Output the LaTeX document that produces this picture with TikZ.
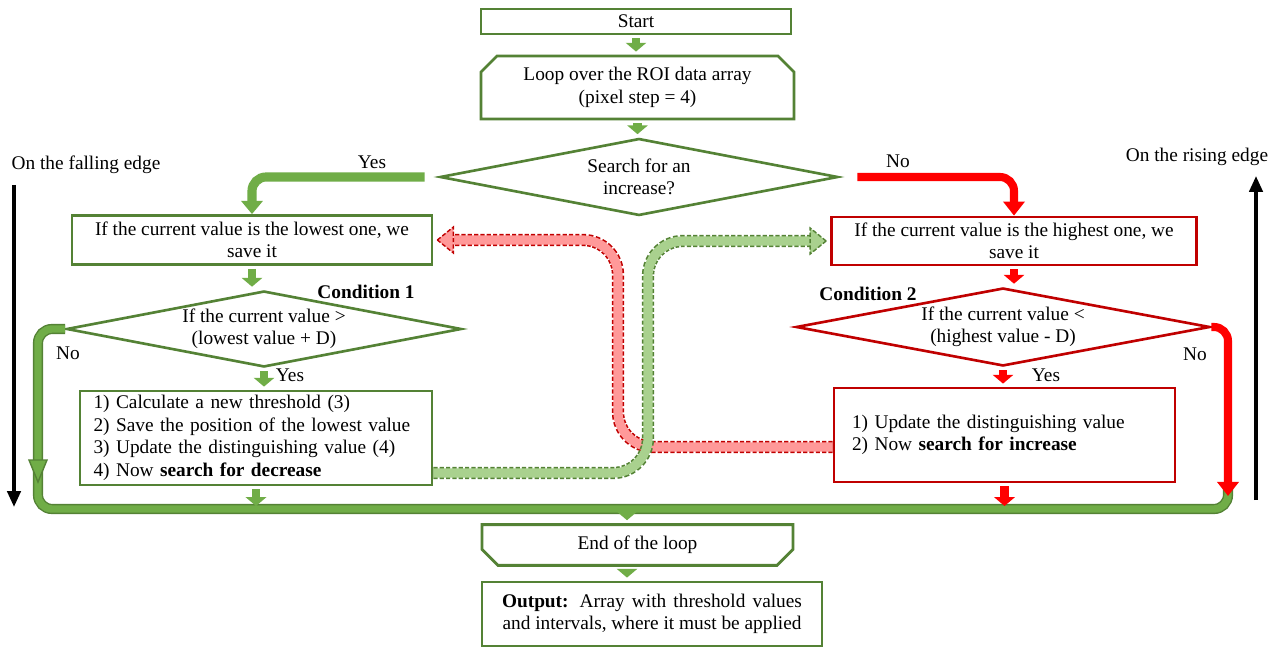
\documentclass[tikz,border=0pt]{standalone}
\usepackage{fontspec}
\setmainfont{Liberation Serif}
\usetikzlibrary{shapes.geometric,shapes.misc,arrows.meta,positioning,calc}

\definecolor{boxgreen}{RGB}{84,130,53}
\definecolor{bandgreen}{RGB}{112,173,71}
\definecolor{palegreen}{RGB}{169,209,142}
\definecolor{boxred}{RGB}{192,0,0}
\definecolor{bandred}{RGB}{255,0,0}
\definecolor{palered}{RGB}{255,153,153}

\begin{document}
\begin{tikzpicture}[
  x=0.02cm,y=-0.02cm,
  every node/.style={font=\fontsize{11}{12.8}\selectfont,align=center},
  gbox/.style={rectangle,draw=boxgreen,line width=1.6pt,fill=white,inner sep=2pt},
  rbox/.style={rectangle,draw=boxred,line width=1.6pt,fill=white,inner sep=2pt},
  gdiam/.style={diamond,draw=boxgreen,line width=1.5pt,fill=white,aspect=5,inner sep=0pt},
  rdiam/.style={diamond,draw=boxred,line width=1.5pt,fill=white,aspect=5,inner sep=0pt},
  gblk/.style={draw=bandgreen,line width=5pt,shorten <=0.06cm,shorten >=0.06cm,-{Triangle[length=5pt,width=11.5pt]}},
  rblk/.style={draw=bandred,line width=5pt,shorten <=0.06cm,shorten >=0.06cm,-{Triangle[length=5pt,width=11.5pt]}},
  gyes/.style={draw=bandgreen,line width=5.2pt,rounded corners=8pt,shorten <=0.28cm,-{Triangle[length=7.5pt,width=12pt]}},
  rno/.style={draw=bandred,line width=4.6pt,rounded corners=8pt,-{Triangle[length=8pt,width=12pt]}},
  loopln/.style={draw=boxgreen,line width=0.8pt,double=bandgreen,double distance=4.2pt,rounded corners=8pt},
  rlink/.style={draw=palered,line width=5.2pt,rounded corners=0.7cm,preaction={draw=boxred,dashed,dash pattern=on 2.4pt off 1.2pt,line width=7pt}},
  glink/.style={draw=palegreen,line width=5.2pt,rounded corners=0.7cm,preaction={draw=boxgreen,dashed,dash pattern=on 2.4pt off 1.2pt,line width=7pt}},
  edgearr/.style={draw=black,line width=2pt,-{Triangle[length=9pt,width=7.5pt]}}
]
\useasboundingbox (0,0) rectangle (1278,648);
\fill[white] (0,0) rectangle (1278,648);

% main column
\node[gbox,minimum width=6.2cm,minimum height=0.5cm] (start) at (636,21.5) {Start};
\node[gbox,chamfered rectangle,chamfered rectangle corners={north west,north east},
  chamfered rectangle xsep=0.16cm,chamfered rectangle ysep=0.16cm,
  minimum width=6.26cm,minimum height=1.18cm] (loop) at (637.5,87.5) {Loop over the ROI data array\\(pixel step = 4)};
\node[gdiam,minimum width=7.96cm,minimum height=1.54cm] (incr) at (639,177) {Search for an\\increase?};

% falling edge branch
\node[gbox,minimum width=7.2cm,minimum height=0.98cm] (low1) at (252,240) {If the current value is the lowest one, we\\save it};
\node[gdiam,minimum width=7.9cm,minimum height=1.52cm] (cond1) at (264,329) {If the current value >\\(lowest value + D)};
\node[gbox,text width=6.5cm,align=left,inner xsep=0.27cm,minimum height=1.88cm] (act1) at (256,438)
  {1) Calculate a new threshold (3)\\2) Save the position of the lowest value\\3) Update the distinguishing value (4)\\4) Now \textbf{search for decrease}};

% rising edge branch
\node[rbox,minimum width=7.3cm,minimum height=0.96cm] (high1) at (1014,241) {If the current value is the highest one, we\\save it};
\node[rdiam,minimum width=8.28cm,minimum height=1.56cm] (cond2) at (1003,327) {If the current value <\\(highest value - D)};
\node[rbox,text width=6.1cm,align=left,inner xsep=0.36cm,minimum height=1.88cm] (act2) at (1004.5,435)
  {1) Update the distinguishing value\\2) Now \textbf{search for increase}};

% end of loop
\node[gbox,chamfered rectangle,chamfered rectangle corners={south west,south east},
  chamfered rectangle xsep=0.16cm,chamfered rectangle ysep=0.16cm,
  minimum width=6.22cm,minimum height=0.54cm] (endl) at (637.5,545) {End of the loop};
\node[gbox,minimum width=6.8cm,minimum height=1.28cm] (out) at (652,614)
  {\makebox[6cm][s]{\textbf{Output:} Array with threshold values}\\and intervals, where it must be applied};

% labels
\node (yesA) at (372,162) {Yes};
\node (noA) at (898,161) {No};
\node[font=\fontsize{11}{12.8}\selectfont\bfseries] (c1) at (366,292) {Condition 1};
\node[font=\fontsize{11}{12.8}\selectfont\bfseries] (c2) at (868,294) {Condition 2};
\node (noB) at (68,353) {No};
\node (yesB) at (290,375) {Yes};
\node (yesC) at (1046,375) {Yes};
\node (noC) at (1195,354) {No};
\node (fall) at (86,165) {On the falling edge};
\node (rise) at (1197,157) {On the rising edge};

\coordinate (lc) at (38,509);
\coordinate (rt) at (1228,487);
\coordinate (rtip) at (1228,496);
\coordinate (jn) at (627,509);
\coordinate (rv) at (618,0);
\coordinate (gv) at (648,0);
\coordinate (fa) at (14,185);
\coordinate (fb) at (14,507);
\coordinate (ra) at (1256,500);
\coordinate (rb) at (1256,176);

% dashed links
\draw[rlink] ($(act2.west)+(0,12)$) -| (rv |- low1.east) -- ($(low1.east)+(20,0)$);
\draw[boxred,dashed,dash pattern=on 2.4pt off 1.2pt,line width=0.8pt,fill=palered]
  ($(low1.east)+(4,0)$) -- ++(16,-13) -- ++(0,26) -- cycle;
\draw[glink] ($(act1.east)+(0,35)$) -| (gv |- high1.west) -- ($(high1.west)+(-20,0)$);
\draw[boxgreen,dashed,dash pattern=on 2.4pt off 1.2pt,line width=0.8pt,fill=palegreen]
  ($(high1.west)+(-4,0)$) -- ++(-16,-13) -- ++(0,26) -- cycle;

% loop back
\draw[loopln] (cond1.west) -| (lc) -| (rt);
\draw[boxgreen,line width=0.8pt,fill=bandgreen] ($(lc)+(0,-27)$) -- ++(-9,-22) -- ++(18,0) -- cycle;
\draw[rno] (cond2.east) -| (rtip);

% branches
\draw[gyes] (incr.west) -| (low1.north);
\draw[rno,shorten <=0.36cm] (incr.east) -| (high1.north);

% block arrows
\draw[gblk] (start.south) -- (start.south |- loop.north);
\draw[gblk] (loop.south) -- (loop.south |- incr.north);
\draw[gblk] (low1.south) -- (low1.south |- cond1.north);
\draw[gblk] (cond1.south) -- (cond1.south |- act1.north);
\draw[gblk] (act1.south) -- (act1.south |- lc);
\draw[rblk] (high1.south) -- (high1.south |- cond2.north);
\draw[rblk] (cond2.south) -- (cond2.south |- act2.north);
\draw[rblk] (act2.south) -- (act2.south |- lc);
\draw[gblk] (jn) -- (jn |- endl.north);
\draw[gblk] (endl.south -| jn) -- (jn |- out.north);

% edge direction
\draw[edgearr] (fa) -- (fb);
\draw[edgearr] (ra) -- (rb);
\end{tikzpicture}
\end{document}
